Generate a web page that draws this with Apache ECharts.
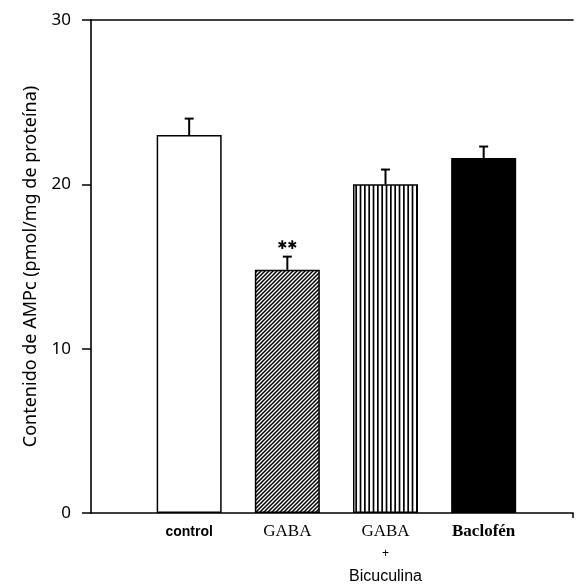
<!DOCTYPE html>
<html>
<head>
<meta charset="utf-8">
<script src="https://cdn.jsdelivr.net/npm/echarts@6/dist/echarts.min.js"></script>
<style>
  html, body { margin: 0; padding: 0; background: #fff; }
  #chart { width: 576px; height: 586px; }
</style>
</head>
<body>
<div id="chart"></div>
<script>
// cAMP content per treatment (pmol/mg protein), mean and SEM
const categories = ['control', 'GABA', 'GABA\n+\nBicuculina', 'Baclofén'];
const values = [23.0, 14.8, 20.0, 21.6];
const errors = [1.0, 0.8, 0.9, 0.7];
const significance = ['', '**', '', ''];
const yTicks = [0, 10, 20, 30];

const X_MAX = 4.91;

// Fill patterns: plain, diagonal hatch, vertical stripes, solid
function diagonalHatch() {
  const c = document.createElement('canvas');
  c.width = 4; c.height = 4;
  const g = c.getContext('2d');
  g.fillStyle = '#fff'; g.fillRect(0, 0, 4, 4);
  g.strokeStyle = '#000'; g.lineWidth = 1.5;
  g.beginPath();
  g.moveTo(-1, 5); g.lineTo(5, -1);
  g.moveTo(-1, 1); g.lineTo(1, -1);
  g.moveTo(3, 5); g.lineTo(5, 3);
  g.stroke();
  return c;
}
function verticalStripes() {
  const c = document.createElement('canvas');
  c.width = 13; c.height = 4;
  const g = c.getContext('2d');
  g.fillStyle = '#fff'; g.fillRect(0, 0, 13, 4);
  g.fillStyle = '#000';
  [0, 4.33, 8.66].forEach(x => g.fillRect(x, 0, 1.7, 4));
  return c;
}
const fills = [
  '#ffffff',
  { image: diagonalHatch(), repeat: 'repeat' },
  { image: verticalStripes(), repeat: 'repeat' },
  '#000000'
];

const labelRich = {
  c: { fontFamily: 'Liberation Sans', fontWeight: 'bold', fontSize: 14, lineHeight: 22, color: '#000' },
  s: { fontFamily: 'Liberation Serif', fontSize: 17, lineHeight: 22, color: '#000' },
  sb: { fontFamily: 'Liberation Serif', fontWeight: 'bold', fontSize: 17, lineHeight: 22, color: '#000' },
  p: { fontFamily: 'Liberation Sans', fontSize: 12, lineHeight: 22, color: '#000' },
  b: { fontFamily: 'Liberation Sans', fontSize: 16, lineHeight: 24, color: '#000' }
};
const labelStyleKeys = [['c'], ['s'], ['s', 'p', 'b'], ['sb']];

function categoryLabel(v) {
  const i = Math.round(v) - 1;
  if (Math.abs(v - Math.round(v)) > 1e-6 || i < 0 || i >= categories.length) return '';
  const lines = categories[i].split('\n');
  return lines.map((t, k) => '{' + labelStyleKeys[i][k] + '|' + t + '}').join('\n');
}

const chart = echarts.init(document.getElementById('chart'), null, { renderer: 'canvas' });

chart.setOption({
  backgroundColor: '#fff',
  animation: false,
  grid: { left: 91, right: 0, top: 20, bottom: 73 },
  xAxis: [
    {
      type: 'value', min: 0, max: X_MAX, interval: 1, position: 'bottom',
      axisLine: { show: true, lineStyle: { color: '#000', width: 1.6 } },
      axisTick: { show: true, customValues: [X_MAX], length: 5, lineStyle: { color: '#000', width: 1.5 } },
      splitLine: { show: false },
      axisLabel: { margin: 8, formatter: categoryLabel, rich: labelRich, align: 'center', verticalAlign: 'top' }
    },
    {
      type: 'value', min: 0, max: X_MAX, position: 'top',
      axisLine: { show: true, lineStyle: { color: '#000', width: 1.6 } },
      axisTick: { show: false }, axisLabel: { show: false }, splitLine: { show: false }
    }
  ],
  yAxis: {
    type: 'value', min: yTicks[0], max: yTicks[yTicks.length - 1], interval: 10,
    name: 'Contenido de AMPc (pmol/mg de proteína)',
    nameLocation: 'middle', nameGap: 51,
    nameTextStyle: { fontFamily: 'Noto Sans', fontSize: 18, color: '#000' },
    axisLine: { show: true, lineStyle: { color: '#000', width: 1.6 } },
    axisTick: { show: true, inside: false, length: 9, lineStyle: { color: '#000', width: 1.5 } },
    splitLine: { show: false },
    axisLabel: { margin: 20, fontFamily: 'Noto Sans', fontSize: 17, color: '#000' }
  },
  series: [
    {
      type: 'bar',
      barWidth: 65,
      data: values.map((v, i) => ({
        value: [i + 1, v],
        itemStyle: { color: fills[i], borderColor: '#000', borderWidth: 1.5 }
      }))
    },
    {
      type: 'custom',
      data: values.map((v, i) => [i + 1, v, errors[i]]),
      renderItem: function (params, api) {
        const x = api.value(0), v = api.value(1), e = api.value(2);
        const sig = significance[params.dataIndex];
        const base = api.coord([x, v]);
        const top = api.coord([x, v + e]);
        const children = [
          { type: 'line', shape: { x1: base[0], y1: base[1], x2: top[0], y2: top[1] },
            style: { stroke: '#000', lineWidth: 2 } },
          { type: 'line', shape: { x1: top[0] - 4.5, y1: top[1], x2: top[0] + 4.5, y2: top[1] },
            style: { stroke: '#000', lineWidth: 2 } }
        ];
        if (sig) {
          // heavy six-point stars for the significance marks
          children.push({
            type: 'text',
            style: { text: sig.replace(/\*/g, '\u2731'), x: top[0], y: top[1] - 11,
                     align: 'center', verticalAlign: 'middle',
                     fontFamily: 'DejaVu Sans', fontSize: 12, fill: '#000' }
          });
        }
        return { type: 'group', children: children };
      },
      z: 5
    }
  ]
});
</script>
</body>
</html>
